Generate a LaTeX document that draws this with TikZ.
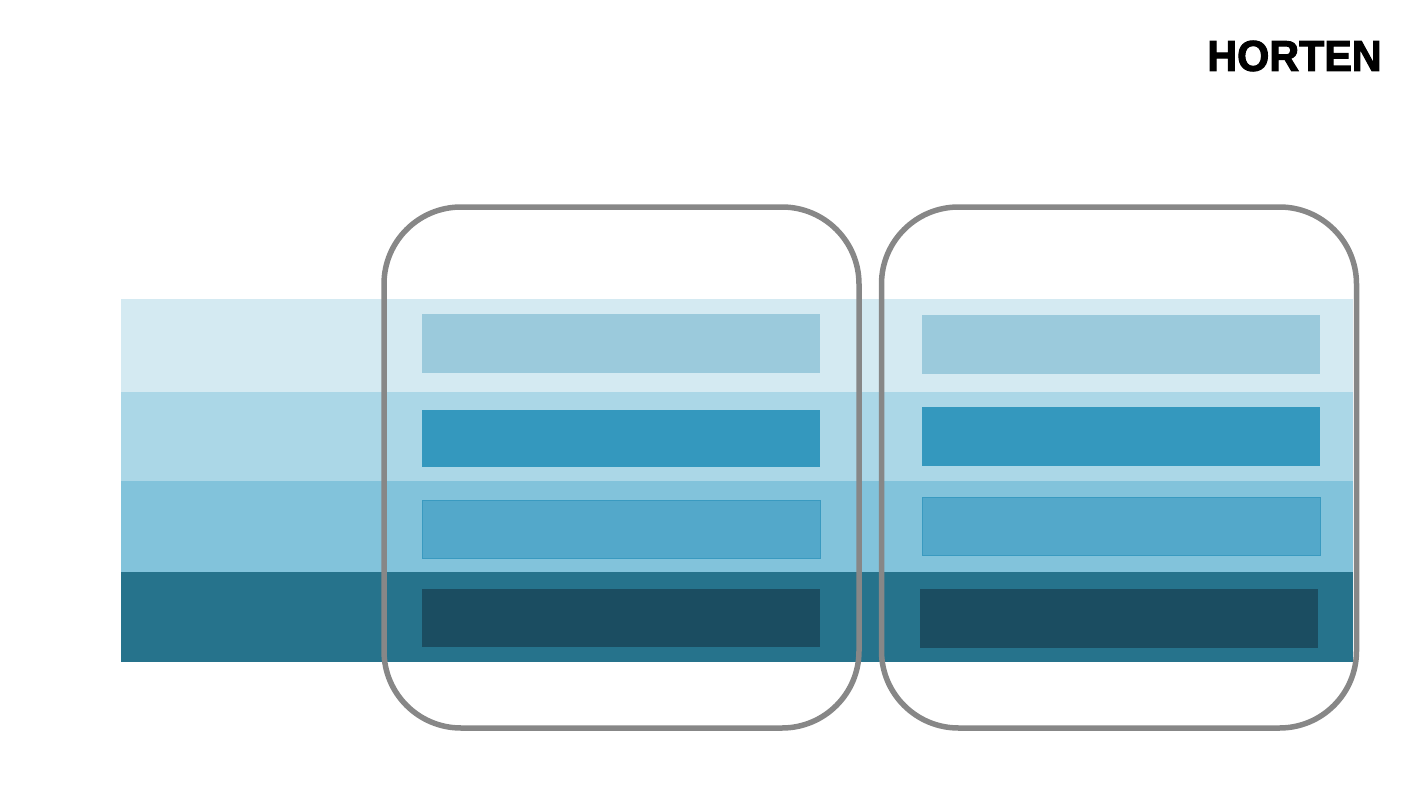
\documentclass[tikz,border=0pt]{standalone}
\usepackage{fontspec}
\newfontfamily\logofont{Liberation Sans}[BoldFeatures={FakeBold=2.5}]
\definecolor{bandA}{HTML}{D4EAF2}
\definecolor{bandB}{HTML}{ABD7E7}
\definecolor{bandC}{HTML}{82C3DB}
\definecolor{bandD}{HTML}{26738C}
\definecolor{boxA}{HTML}{9BCADC}
\definecolor{boxB}{HTML}{3498BE}
\definecolor{boxC}{HTML}{53A8CA}
\definecolor{boxCline}{HTML}{3A9AC0}
\definecolor{boxD}{HTML}{1B4D61}
\definecolor{framegray}{HTML}{878787}
\begin{document}
\begin{tikzpicture}[x=1pt,y=-1pt,
    every node/.style={inner sep=0pt, outer sep=0pt, anchor=north west},
    band/.style={minimum width=1232pt},
    cell/.style={minimum width=398pt},
    frame/.style={draw=framegray, line width=5.5pt, rounded corners=77pt,
      anchor=center, minimum width=475pt, minimum height=521pt}]
  \useasboundingbox (0,0) rectangle (1422,800);
  % bands
  \node[band, fill=bandA, minimum height=93pt] (BandA) at (121,299) {};
  \node[band, fill=bandB, minimum height=89pt] (BandB) at (121,392) {};
  \node[band, fill=bandC, minimum height=91pt] (BandC) at (121,481) {};
  \node[band, fill=bandD, minimum height=90pt] (BandD) at (121,572) {};
  % left column
  \node[cell, fill=boxA, minimum height=59pt] (LeftA) at (422,314) {};
  \node[cell, fill=boxB, minimum height=57pt] (LeftB) at (422,410) {};
  \node[cell, fill=boxC, draw=boxCline, minimum height=58pt] (LeftC) at (422,500) {};
  \node[cell, fill=boxD, minimum height=58pt] (LeftD) at (422,589) {};
  % right column
  \node[cell, fill=boxA, minimum height=59pt] (RightA) at (922,315) {};
  \node[cell, fill=boxB, minimum height=59pt] (RightB) at (922,407) {};
  \node[cell, fill=boxC, draw=boxCline, minimum height=58pt] (RightC) at (922,497) {};
  \node[cell, fill=boxD, minimum height=59pt] (RightD) at (920,589) {};
  % frames
  \node[frame] (LeftFrame)  at (621.5,467.5) {};
  \node[frame] (RightFrame) at (1119,467.5) {};
  % logo
  \node[anchor=center, xscale=0.96] (Logo) at (1294.5,56)
    {\logofont\bfseries\fontsize{43pt}{43pt}\selectfont HORTEN};
\end{tikzpicture}
\end{document}
